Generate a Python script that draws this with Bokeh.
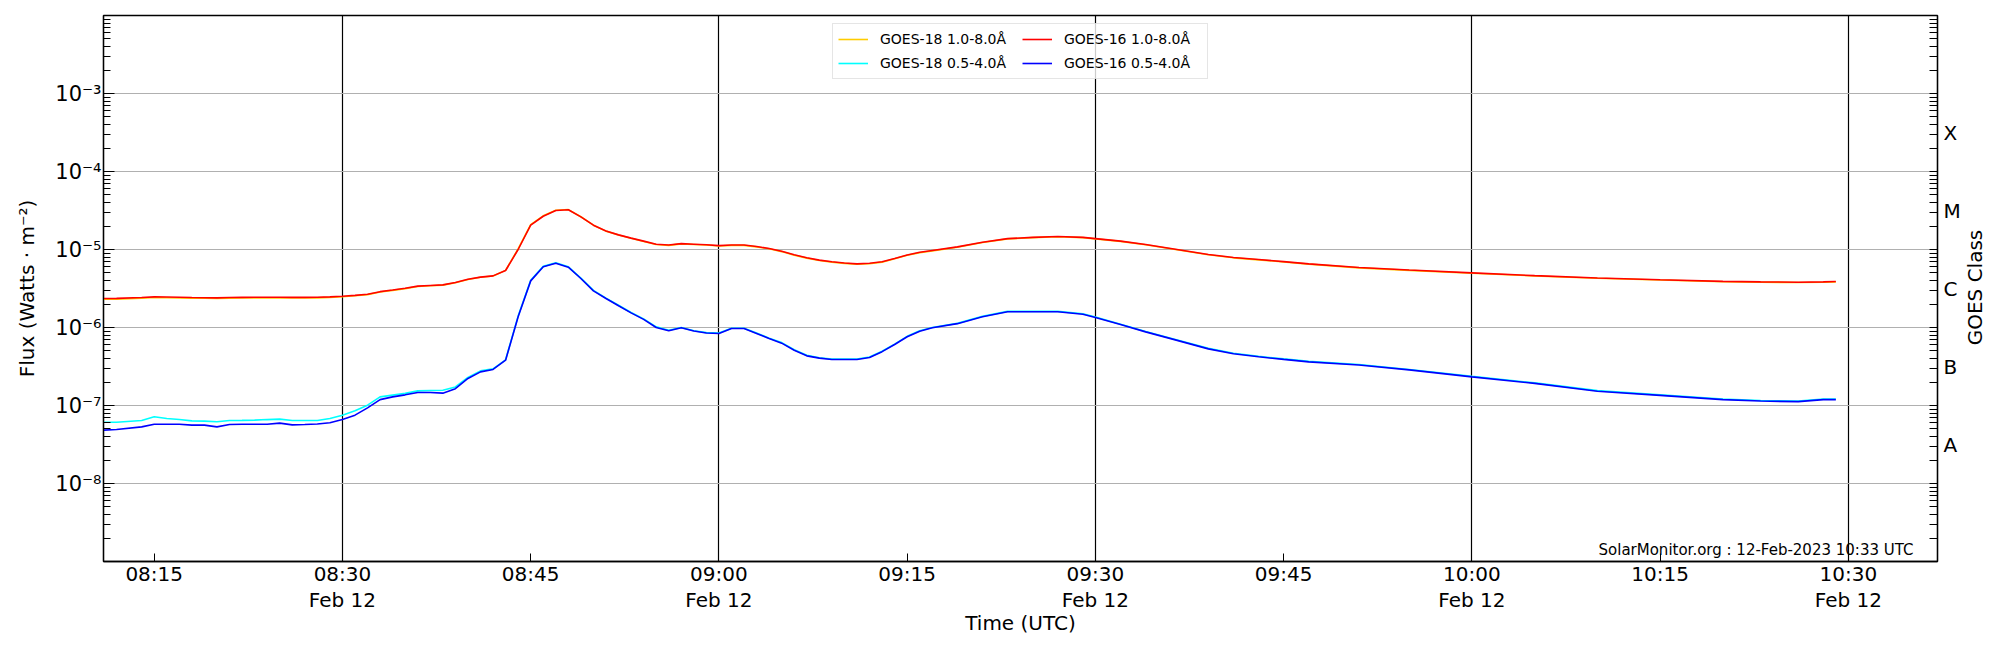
import pandas as pd
from math import pi
from bokeh.plotting import figure
from bokeh.layouts import row
from bokeh.models import (FixedTicker, CustomJSTickFormatter, LogAxis, Range1d,
                          Label, Legend, LegendItem)
from bokeh.embed import file_html
from bokeh.resources import INLINE

# ---------------- data ----------------
day = "2023-02-12 08:00"          # time origin (UTC)
# minutes after 08:00 UTC
t_min = [11, 12, 14, 15, 16, 17, 18, 19, 20, 21,
         22, 23, 24, 25, 26, 27, 28, 29, 30, 31,
         32, 33, 34, 35, 36, 37, 38, 39, 40, 41,
         42, 43, 44, 45, 46, 47, 48, 49, 50, 51,
         52, 53, 54, 55, 56, 57, 58, 59, 60, 61,
         62, 63, 64, 65, 66, 67, 68, 69, 70, 71,
         72, 73, 74, 75, 76, 77, 79, 81, 83, 85,
         87, 89, 90, 92, 94, 96, 99, 101, 103, 105,
         107, 111, 115, 120, 125, 130, 135, 140, 143, 146,
         148, 149]

g16_long = [2.35e-6, 2.36e-6, 2.42e-6, 2.47e-6, 2.46e-6, 2.44e-6, 2.42e-6, 2.41e-6, 2.40e-6, 2.42e-6,
            2.43e-6, 2.44e-6, 2.44e-6, 2.44e-6, 2.43e-6, 2.43e-6, 2.44e-6, 2.47e-6, 2.52e-6, 2.58e-6,
            2.67e-6, 2.88e-6, 3.02e-6, 3.18e-6, 3.39e-6, 3.46e-6, 3.52e-6, 3.78e-6, 4.15e-6, 4.42e-6,
            4.59e-6, 5.38e-6, 1.0e-5, 2.05e-5, 2.67e-5, 3.16e-5, 3.23e-5, 2.62e-5, 2.05e-5, 1.73e-5,
            1.54e-5, 1.40e-5, 1.28e-5, 1.17e-5, 1.14e-5, 1.19e-5, 1.17e-5, 1.15e-5, 1.12e-5, 1.14e-5,
            1.14e-5, 1.09e-5, 1.03e-5, 9.5e-6, 8.55e-6, 7.82e-6, 7.3e-6, 6.95e-6, 6.7e-6, 6.55e-6,
            6.65e-6, 6.95e-6, 7.67e-6, 8.5e-6, 9.2e-6, 9.7e-6, 1.08e-5, 1.24e-5, 1.38e-5, 1.43e-5,
            1.47e-5, 1.43e-5, 1.38e-5, 1.28e-5, 1.16e-5, 1.03e-5, 8.63e-6, 7.9e-6, 7.44e-6, 7.0e-6,
            6.55e-6, 5.88e-6, 5.45e-6, 5.02e-6, 4.62e-6, 4.32e-6, 4.1e-6, 3.9e-6, 3.84e-6, 3.81e-6,
            3.85e-6, 3.89e-6]

g16_short = [4.83e-8, 4.92e-8, 5.32e-8, 5.76e-8, 5.76e-8, 5.76e-8, 5.60e-8, 5.60e-8, 5.32e-8, 5.70e-8,
             5.76e-8, 5.76e-8, 5.76e-8, 5.94e-8, 5.65e-8, 5.70e-8, 5.80e-8, 6.0e-8, 6.62e-8, 7.52e-8,
             9.33e-8, 1.19e-7, 1.29e-7, 1.37e-7, 1.47e-7, 1.47e-7, 1.44e-7, 1.64e-7, 2.22e-7, 2.70e-7,
             2.90e-7, 3.81e-7, 1.37e-6, 3.96e-6, 6.0e-6, 6.68e-6, 5.94e-6, 4.25e-6, 2.95e-6, 2.35e-6,
             1.90e-6, 1.54e-6, 1.27e-6, 1.0e-6, 9.06e-7, 9.91e-7, 9.0e-7, 8.5e-7, 8.38e-7, 9.71e-7,
             9.71e-7, 8.4e-7, 7.23e-7, 6.3e-7, 5.1e-7, 4.33e-7, 4.05e-7, 3.89e-7, 3.88e-7, 3.89e-7,
             4.12e-7, 4.9e-7, 6.05e-7, 7.6e-7, 8.97e-7, 9.91e-7, 1.12e-6, 1.37e-6, 1.59e-6, 1.59e-6,
             1.59e-6, 1.48e-6, 1.34e-6, 1.09e-6, 8.79e-7, 7.2e-7, 5.32e-7, 4.6e-7, 4.21e-7, 3.9e-7,
             3.62e-7, 3.3e-7, 2.86e-7, 2.33e-7, 1.92e-7, 1.52e-7, 1.35e-7, 1.19e-7, 1.14e-7, 1.12e-7,
             1.19e-7, 1.19e-7]

g18_long = [2.30e-6, 2.31e-6, 2.37e-6, 2.42e-6, 2.41e-6, 2.39e-6, 2.38e-6, 2.37e-6, 2.36e-6, 2.38e-6,
            2.39e-6, 2.40e-6, 2.40e-6, 2.40e-6, 2.39e-6, 2.39e-6, 2.40e-6, 2.43e-6, 2.48e-6, 2.55e-6,
            2.64e-6, 2.85e-6, 2.99e-6, 3.15e-6, 3.36e-6, 3.43e-6, 3.49e-6, 3.75e-6, 4.12e-6, 4.40e-6,
            4.57e-6, 5.40e-6, 1.02e-5, 2.08e-5, 2.70e-5, 3.18e-5, 3.25e-5, 2.63e-5, 2.05e-5, 1.72e-5,
            1.53e-5, 1.39e-5, 1.27e-5, 1.16e-5, 1.13e-5, 1.18e-5, 1.16e-5, 1.14e-5, 1.11e-5, 1.13e-5,
            1.13e-5, 1.08e-5, 1.02e-5, 9.4e-6, 8.45e-6, 7.75e-6, 7.22e-6, 6.88e-6, 6.63e-6, 6.48e-6,
            6.58e-6, 6.88e-6, 7.6e-6, 8.42e-6, 9.1e-6, 9.6e-6, 1.07e-5, 1.23e-5, 1.37e-5, 1.42e-5,
            1.46e-5, 1.42e-5, 1.37e-5, 1.27e-5, 1.15e-5, 1.02e-5, 8.55e-6, 7.82e-6, 7.37e-6, 6.93e-6,
            6.49e-6, 5.82e-6, 5.40e-6, 4.97e-6, 4.58e-6, 4.28e-6, 4.06e-6, 3.86e-6, 3.80e-6, 3.77e-6,
            3.81e-6, 3.85e-6]

g18_short = [6.11e-8, 6.11e-8, 6.42e-8, 7.16e-8, 6.81e-8, 6.6e-8, 6.35e-8, 6.3e-8, 6.18e-8, 6.42e-8,
             6.45e-8, 6.49e-8, 6.6e-8, 6.68e-8, 6.42e-8, 6.42e-8, 6.42e-8, 6.81e-8, 7.52e-8, 8.55e-8,
             1.01e-7, 1.29e-7, 1.36e-7, 1.43e-7, 1.54e-7, 1.56e-7, 1.57e-7, 1.73e-7, 2.29e-7, 2.78e-7,
             2.95e-7, 3.85e-7, 1.40e-6, 4.02e-6, 6.08e-6, 6.75e-6, 6.0e-6, 4.3e-6, 2.99e-6, 2.38e-6,
             1.93e-6, 1.56e-6, 1.29e-6, 1.02e-6, 9.2e-7, 1.0e-6, 9.1e-7, 8.6e-7, 8.5e-7, 9.8e-7,
             9.8e-7, 8.5e-7, 7.3e-7, 6.4e-7, 5.2e-7, 4.4e-7, 4.1e-7, 3.95e-7, 3.93e-7, 3.95e-7,
             4.18e-7, 4.97e-7, 6.13e-7, 7.7e-7, 9.1e-7, 1.0e-6, 1.13e-6, 1.39e-6, 1.61e-6, 1.61e-6,
             1.61e-6, 1.5e-6, 1.36e-6, 1.1e-6, 8.9e-7, 7.3e-7, 5.4e-7, 4.67e-7, 4.27e-7, 3.96e-7,
             3.68e-7, 3.35e-7, 2.9e-7, 2.37e-7, 1.95e-7, 1.55e-7, 1.37e-7, 1.21e-7, 1.16e-7, 1.14e-7,
             1.21e-7, 1.21e-7]

series_labels = ["GOES-18 1.0-8.0Å", "GOES-18 0.5-4.0Å", "GOES-16 1.0-8.0Å", "GOES-16 0.5-4.0Å"]
series_colors = ["#ffcc00", "#00ffff", "#ff0000", "#0000ff"]

x_tick_min = [15, 30, 45, 60, 75, 90, 105, 120, 135, 150]   # labelled ticks
x_vline_min = [30, 60, 90, 120, 150]                         # black vertical lines
x_lim_min = [10.96, 157.1]
y_decades = [-8, -7, -6, -5, -4, -3]
y_lim = [1.0e-9, 1.0e-2]
class_letters = ["A", "B", "C", "M", "X"]
class_exp = [-7.5, -6.5, -5.5, -4.5, -3.5]
class_title = "GOES Class"
stamp = "SolarMonitor.org : 12-Feb-2023 10:33 UTC"

# ---------------- helpers ----------------
base = pd.Timestamp(day)
epoch = pd.Timestamp("1970-01-01")
def ms(m):
    return (base + pd.Timedelta(minutes=m) - epoch) / pd.Timedelta(milliseconds=1)

times = [base + pd.Timedelta(minutes=m) for m in t_min]
FONT = "DejaVu Sans"
H = 642

p = figure(width=1961, height=H, frame_width=1834, frame_height=546,
           x_axis_type="datetime", y_axis_type="log",
           x_range=Range1d(ms(x_lim_min[0]), ms(x_lim_min[1])),
           y_range=Range1d(y_lim[0], y_lim[1]),
           output_backend="svg", toolbar_location=None,
           min_border_left=103, min_border_right=24, min_border_top=15, min_border_bottom=81,
           background_fill_color="white", border_fill_color="white")
p.outline_line_color = "black"
p.outline_line_width = 1.3
p.outline_line_alpha = 1.0

# lines
renderers = []
for vals, col in zip([g18_long, g18_short, g16_long, g16_short], series_colors):
    r = p.line(times, vals, line_color=col, line_width=1.6)
    renderers.append(r)

# x axis
xt = FixedTicker(ticks=[ms(m) for m in x_tick_min])
xax = p.xaxis[0]
xax.ticker = xt
xax.formatter = CustomJSTickFormatter(code="""
    const d = new Date(tick);
    const mon = ["Jan","Feb","Mar","Apr","May","Jun","Jul","Aug","Sep","Oct","Nov","Dec"];
    const h = String(d.getUTCHours()).padStart(2, "0");
    const m = String(d.getUTCMinutes()).padStart(2, "0");
    let s = h + ":" + m;
    if (d.getUTCMinutes() % 30 == 0) { s += "\\n" + mon[d.getUTCMonth()] + " " + d.getUTCDate(); }
    return s;
""")
xax.major_tick_in = 8
xax.major_tick_out = 0
xax.minor_tick_in = 0
xax.minor_tick_out = 0
xax.major_label_standoff = 0
xax.major_label_text_font = FONT
xax.major_label_text_font_size = "20px"
xax.major_label_text_color = "black"
xax.major_label_text_line_height = 1.1
xax.axis_label = "Time (UTC)"
xax.axis_label_text_font = FONT
xax.axis_label_text_font_size = "20px"
xax.axis_label_text_font_style = "normal"
xax.axis_label_text_color = "black"
xax.axis_label_standoff = -4
xax.axis_line_color = "black"
xax.axis_line_width = 1.3
xax.major_tick_line_color = "black"

# y axis (left)
minor = [k * 10.0 ** e for e in range(-9, -2) for k in range(2, 10)]
yt = FixedTicker(ticks=[10.0 ** e for e in y_decades], minor_ticks=minor)
yax = p.yaxis[0]
yax.ticker = yt
yax.formatter = CustomJSTickFormatter(code="""
    const sup = {"0":"⁰","1":"¹","2":"²","3":"³","4":"⁴","5":"⁵","6":"⁶","7":"⁷","8":"⁸","9":"⁹","-":"⁻"};
    const e = String(Math.round(Math.log10(tick)));
    return "10" + e.split("").map(c => sup[c]).join("");
""")
yax.major_tick_in = 11
yax.major_tick_out = 0
yax.minor_tick_in = 7
yax.minor_tick_out = 0
yax.major_label_standoff = 2
yax.major_label_text_font = FONT
yax.major_label_text_font_size = "21px"
yax.major_label_text_color = "black"
yax.axis_label = "Flux (Watts · m⁻²)"
yax.axis_label_text_font = FONT
yax.axis_label_text_font_size = "20px"
yax.axis_label_text_font_style = "normal"
yax.axis_label_text_color = "black"
yax.axis_label_standoff = 13
yax.axis_line_color = "black"
yax.axis_line_width = 1.3
yax.major_tick_line_color = "black"
yax.minor_tick_line_color = "black"

# right axis: GOES classes
rax = LogAxis(ticker=FixedTicker(ticks=[10.0 ** e for e in class_exp],
                                 minor_ticks=minor + [10.0 ** e for e in range(-8, -2)]))
rax.formatter = CustomJSTickFormatter(args=dict(letters=class_letters, exps=class_exp), code="""
    const e = Math.round(Math.log10(tick) * 2) / 2;
    for (let i = 0; i < exps.length; i++) { if (Math.abs(exps[i] - e) < 0.01) return letters[i]; }
    return "";
""")
rax.major_tick_in = 0
rax.major_tick_out = 0
rax.minor_tick_in = 8
rax.minor_tick_out = 0
rax.minor_tick_line_color = "black"
rax.major_label_standoff = 6
rax.major_label_text_font = FONT
rax.major_label_text_font_size = "20px"
rax.major_label_text_color = "black"
rax.axis_line_color = "black"
rax.axis_line_width = 1.3
p.add_layout(rax, "right")

# grids
p.xgrid.ticker = FixedTicker(ticks=[ms(m) for m in x_vline_min])
p.xgrid.grid_line_color = "black"
p.xgrid.grid_line_width = 1.2
p.xgrid.grid_line_alpha = 1.0
p.ygrid.ticker = yt
p.ygrid.grid_line_color = "#b0b0b0"
p.ygrid.grid_line_width = 1.2

# legend
items = [LegendItem(label=lab, renderers=[r]) for lab, r in zip(series_labels, renderers)]
leg = Legend(items=items, location="top_center", ncols=2, margin=8,
             label_text_font=FONT, label_text_font_size="14px", label_text_color="black",
             glyph_width=30, glyph_height=20, label_standoff=12, label_width=138,
             padding=5, spacing=4,
             border_line_color="#cccccc", border_line_width=1,
             background_fill_color="white", background_fill_alpha=0.8)
p.add_layout(leg, "center")

# stamp
p.add_layout(Label(x=1810, y=12, x_units="screen", y_units="screen", text=stamp,
                   text_align="right", text_baseline="alphabetic",
                   text_font=FONT, text_font_size="15px", text_color="black"))

# side strip holding the rotated right-hand axis title
p2 = figure(width=31, height=H, output_backend="svg", toolbar_location=None,
            x_axis_location=None, y_axis_location=None, min_border=0,
            x_range=Range1d(0, 1), y_range=Range1d(0, 1),
            background_fill_color="white", border_fill_color="white")
p2.outline_line_color = None
p2.grid.visible = False
p2.add_layout(Label(x=11, y=274, x_units="screen", y_units="screen", text=class_title,
                    angle=pi / 2, text_align="center", text_baseline="middle",
                    text_font=FONT, text_font_size="20px", text_color="black"))

open("out.html", "w").write(file_html(row(p, p2), INLINE))
